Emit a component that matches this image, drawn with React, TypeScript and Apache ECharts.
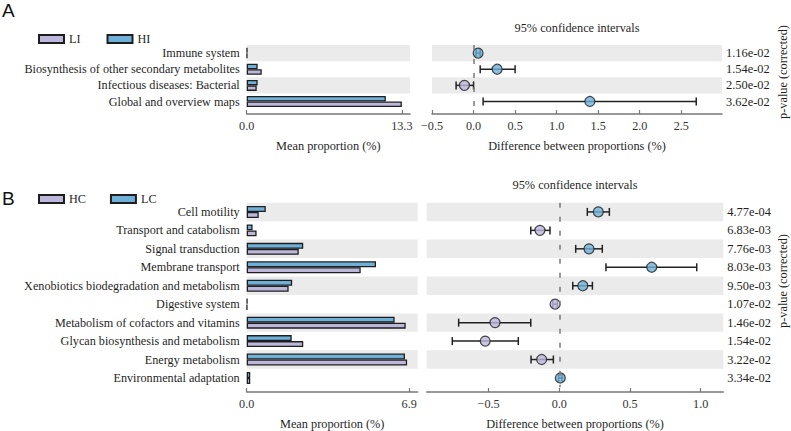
import React, { useEffect, useRef } from "react";
import * as echarts from "echarts";

// ---------- Panel A data ----------
const topCategories = [
  "Immune system",
  "Biosynthesis of other secondary metabolites",
  "Infectious diseases: Bacterial",
  "Global and overview maps",
];
const topLI = [0.04, 1.29, 0.86, 13.3];
const topHI = [0.05, 0.94, 0.94, 11.93];
const topDiff = [0.055, 0.284, -0.11, 1.4];
const topLow = [0.03, 0.08, -0.21, 0.115];
const topHigh = [0.08, 0.5, 0.0, 2.68];
const topP = ["1.16e-02", "1.54e-02", "2.50e-02", "3.62e-02"];
const topMeanTicks = [0, 13.3];
const topDiffTicks = [-0.5, 0, 0.5, 1, 1.5, 2, 2.5];

// ---------- Panel B data ----------
const botCategories = [
  "Cell motility",
  "Transport and catabolism",
  "Signal transduction",
  "Membrane transport",
  "Xenobiotics biodegradation and metabolism",
  "Digestive system",
  "Metabolism of cofactors and vitamins",
  "Glycan biosynthesis and metabolism",
  "Energy metabolism",
  "Environmental adaptation",
];
const botHC = [0.51, 0.42, 2.21, 4.84, 1.78, 0.02, 6.75, 2.4, 6.81, 0.15];
const botLC = [0.81, 0.25, 2.4, 5.49, 1.93, 0.03, 6.28, 1.91, 6.72, 0.15];
const botDiff = [0.276, -0.137, 0.21, 0.654, 0.166, -0.03, -0.455, -0.524, -0.125, 0.007];
const botLow = [0.198, -0.202, 0.116, 0.33, 0.095, -0.045, -0.712, -0.757, -0.2, -0.005];
const botHigh = [0.354, -0.066, 0.304, 0.972, 0.234, -0.015, -0.202, -0.29, -0.042, 0.02];
const botP = [
  "4.77e-04", "6.83e-03", "7.76e-03", "8.03e-03", "9.50e-03",
  "1.07e-02", "1.46e-02", "1.54e-02", "3.22e-02", "3.34e-02",
];
const botMeanTicks = [0, 6.9];
const botDiffTicks = [-0.5, 0, 0.5, 1];

const PURPLE = "#bdb7db";
const BLUE = "#6fb0d8";
const EDGE = "#1e1e1e";
const BAND = "#ebebeb";
const SERIF = "Liberation Serif";
const TXT = "#1f1f1f";
const FS = 12.2;

const fmtTick = (v: number) => (v < 0 ? "\u2212" + Math.abs(v).toFixed(1) : v.toFixed(1));

export default function App() {
  const ref = useRef<HTMLDivElement>(null);

  useEffect(() => {
    if (!ref.current) return;
    const chart = echarts.init(ref.current, undefined, { renderer: "svg" });

    const bandRender = (params: any, api: any) => {
      const idx = api.value(1);
      const p = api.coord([0, idx]);
      const h = api.size([0, 1])[1];
      const cs = params.coordSys;
      return {
        type: "rect",
        shape: { x: cs.x, y: p[1] - h / 2, width: cs.width, height: h },
        style: { fill: BAND },
        silent: true,
      };
    };
    const errRender = (params: any, api: any) => {
      const idx = api.value(2);
      const a = api.coord([api.value(0), idx]);
      const b = api.coord([api.value(1), idx]);
      const y = a[1];
      const cap = 4;
      const st = { stroke: "#222", lineWidth: 1.5 };
      return {
        type: "group",
        children: [
          { type: "line", shape: { x1: a[0], y1: y, x2: b[0], y2: y }, style: st },
          { type: "line", shape: { x1: a[0], y1: y - cap, x2: a[0], y2: y + cap }, style: st },
          { type: "line", shape: { x1: b[0], y1: y - cap, x2: b[0], y2: y + cap }, style: st },
        ],
      };
    };

    const bandData = (n: number) => {
      const out: number[][] = [];
      for (let i = 0; i < n; i += 2) out.push([0, i]);
      return out;
    };

    const valueAxisBase = {
      type: "value",
      splitLine: { show: false },
      axisLine: { show: true, lineStyle: { color: "#777", width: 1.5 } },
      axisTick: { show: true, inside: true, length: 4, lineStyle: { color: "#777", width: 1.2 } },
      axisLabel: { fontFamily: SERIF, fontSize: FS, color: "#333", margin: 6, formatter: fmtTick },
      nameLocation: "middle",
      nameTextStyle: { fontFamily: SERIF, fontSize: 12.3, color: TXT },
    };

    const catLeft = (data: string[]) => ({
      type: "category",
      data,
      inverse: true,
      axisLine: { show: false },
      axisTick: { show: false },
      axisLabel: { fontFamily: SERIF, fontSize: FS, color: TXT, margin: 7, interval: 0 },
    });
    const catRight = (data: string[]) => ({
      type: "category",
      data,
      inverse: true,
      position: "right",
      axisLine: { show: false },
      axisTick: { show: false },
      axisLabel: { fontFamily: SERIF, fontSize: 12.4, color: TXT, margin: 4, align: "left", interval: 0 },
    });

    const dotData = (diff: number[]) =>
      diff.map((d, i) => ({ value: [d, i], itemStyle: { color: d >= 0 ? BLUE : PURPLE } }));

    const zeroLine = {
      silent: true,
      symbol: ["none", "none"],
      label: { show: false },
      lineStyle: { type: [5, 9], color: "#7a7a7a", width: 1.5 },
      data: [{ xAxis: 0 }],
    };

    const barStyle = (c: string) => ({ color: c, borderColor: EDGE, borderWidth: 1.3 });

    const option: any = {
      animation: false,
      backgroundColor: "#ffffff",
      legend: [
        {
          data: ["LI", "HI"],
          left: 33,
          top: 28,
          icon: "rect",
          itemWidth: 25,
          itemHeight: 8,
          itemGap: 26,
          textStyle: { fontFamily: SERIF, fontSize: FS, color: TXT },
          selectedMode: false,
        },
        {
          data: ["HC", "LC"],
          left: 33,
          top: 188,
          icon: "rect",
          itemWidth: 25,
          itemHeight: 8,
          itemGap: 24,
          textStyle: { fontFamily: SERIF, fontSize: FS, color: TXT },
          selectedMode: false,
        },
      ],
      grid: [
        { left: 246.7, top: 45, width: 163.3, height: 64.6 },
        { left: 432, top: 45, width: 290, height: 64.6 },
        { left: 246.7, top: 202.7, width: 171, height: 185 },
        { left: 426.7, top: 202.7, width: 296.6, height: 185 },
      ],
      xAxis: [
        {
          ...valueAxisBase,
          gridIndex: 0,
          min: 0,
          max: 14.0,
          offset: 4.5,
          axisTick: { ...valueAxisBase.axisTick, customValues: topMeanTicks },
          axisLabel: { ...valueAxisBase.axisLabel, customValues: topMeanTicks },
          name: "Mean proportion (%)",
          nameGap: 26,
        },
        {
          ...valueAxisBase,
          gridIndex: 1,
          min: -0.5,
          max: 2.99,
          offset: 4.5,
          axisTick: { ...valueAxisBase.axisTick, customValues: topDiffTicks },
          axisLabel: { ...valueAxisBase.axisLabel, customValues: topDiffTicks },
          name: "Difference between proportions (%)",
          nameGap: 26,
        },
        {
          ...valueAxisBase,
          gridIndex: 2,
          min: 0,
          max: 7.26,
          offset: 4.8,
          axisTick: { ...valueAxisBase.axisTick, customValues: botMeanTicks },
          axisLabel: { ...valueAxisBase.axisLabel, customValues: botMeanTicks },
          name: "Mean proportion (%)",
          nameGap: 26,
        },
        {
          ...valueAxisBase,
          gridIndex: 3,
          min: -0.938,
          max: 1.16,
          offset: 4.8,
          axisTick: { ...valueAxisBase.axisTick, customValues: botDiffTicks },
          axisLabel: { ...valueAxisBase.axisLabel, customValues: botDiffTicks },
          name: "Difference between proportions (%)",
          nameGap: 26,
        },
      ],
      yAxis: [
        { ...catLeft(topCategories), gridIndex: 0 },
        { ...catRight(topP), gridIndex: 1 },
        { ...catLeft(botCategories), gridIndex: 2 },
        { ...catRight(botP), gridIndex: 3 },
      ],
      graphic: [
        { type: "text", left: 2, top: 1, style: { text: "A", fontSize: 19, fontFamily: "Liberation Sans", fill: "#111" } },
        { type: "text", left: 2, top: 189, style: { text: "B", fontSize: 19, fontFamily: "Liberation Sans", fill: "#111" } },
        {
          type: "text",
          x: 577,
          y: 28,
          style: { text: "95% confidence intervals", fontSize: 12.3, fontFamily: SERIF, fill: TXT, textAlign: "center", textVerticalAlign: "middle" },
        },
        {
          type: "text",
          x: 575,
          y: 185,
          style: { text: "95% confidence intervals", fontSize: 12.3, fontFamily: SERIF, fill: TXT, textAlign: "center", textVerticalAlign: "middle" },
        },
        {
          type: "text",
          x: 783,
          y: 72,
          rotation: Math.PI / 2,
          style: { text: "p-value (corrected)", fontSize: 12.3, fontFamily: SERIF, fill: TXT, textAlign: "center", textVerticalAlign: "middle" },
        },
        {
          type: "text",
          x: 783,
          y: 281,
          rotation: Math.PI / 2,
          style: { text: "p-value (corrected)", fontSize: 12.3, fontFamily: SERIF, fill: TXT, textAlign: "center", textVerticalAlign: "middle" },
        },
      ],
      series: [
        // Panel A, mean proportions
        { type: "custom", xAxisIndex: 0, yAxisIndex: 0, renderItem: bandRender, data: bandData(topCategories.length), encode: { x: 0, y: 1 }, z: 0, silent: true },
        { type: "bar", name: "HI", xAxisIndex: 0, yAxisIndex: 0, data: topHI, barWidth: 5.5, barGap: "0%", itemStyle: barStyle(BLUE), z: 2 },
        { type: "bar", name: "LI", xAxisIndex: 0, yAxisIndex: 0, data: topLI, barWidth: 5.5, barGap: "0%", itemStyle: barStyle(PURPLE), z: 2 },
        // Panel A, differences
        { type: "custom", xAxisIndex: 1, yAxisIndex: 1, renderItem: bandRender, data: bandData(topCategories.length), encode: { x: 0, y: 1 }, z: 0, silent: true },
        {
          type: "custom",
          xAxisIndex: 1,
          yAxisIndex: 1,
          renderItem: errRender,
          data: topLow.map((l, i) => [l, topHigh[i], i]),
          encode: { x: [0, 1], y: 2 },
          z: 3,
          silent: true,
        },
        {
          type: "scatter",
          xAxisIndex: 1,
          yAxisIndex: 1,
          data: dotData(topDiff),
          symbolSize: 10,
          itemStyle: { borderColor: EDGE, borderWidth: 1.2 },
          z: 4,
          markLine: zeroLine,
        },
        // Panel B, mean proportions
        { type: "custom", xAxisIndex: 2, yAxisIndex: 2, renderItem: bandRender, data: bandData(botCategories.length), encode: { x: 0, y: 1 }, z: 0, silent: true },
        { type: "bar", name: "LC", xAxisIndex: 2, yAxisIndex: 2, data: botLC, barWidth: 6, barGap: "0%", itemStyle: barStyle(BLUE), z: 2 },
        { type: "bar", name: "HC", xAxisIndex: 2, yAxisIndex: 2, data: botHC, barWidth: 6, barGap: "0%", itemStyle: barStyle(PURPLE), z: 2 },
        // Panel B, differences
        { type: "custom", xAxisIndex: 3, yAxisIndex: 3, renderItem: bandRender, data: bandData(botCategories.length), encode: { x: 0, y: 1 }, z: 0, silent: true },
        {
          type: "custom",
          xAxisIndex: 3,
          yAxisIndex: 3,
          renderItem: errRender,
          data: botLow.map((l, i) => [l, botHigh[i], i]),
          encode: { x: [0, 1], y: 2 },
          z: 3,
          silent: true,
        },
        {
          type: "scatter",
          xAxisIndex: 3,
          yAxisIndex: 3,
          data: dotData(botDiff),
          symbolSize: 10,
          itemStyle: { borderColor: EDGE, borderWidth: 1.2 },
          z: 4,
          markLine: zeroLine,
        },
      ],
    };

    chart.setOption(option);
    return () => chart.dispose();
  }, []);

  return <div ref={ref} style={{ width: 791, height: 431, position: "absolute", left: 0, top: 0 }} />;
}
